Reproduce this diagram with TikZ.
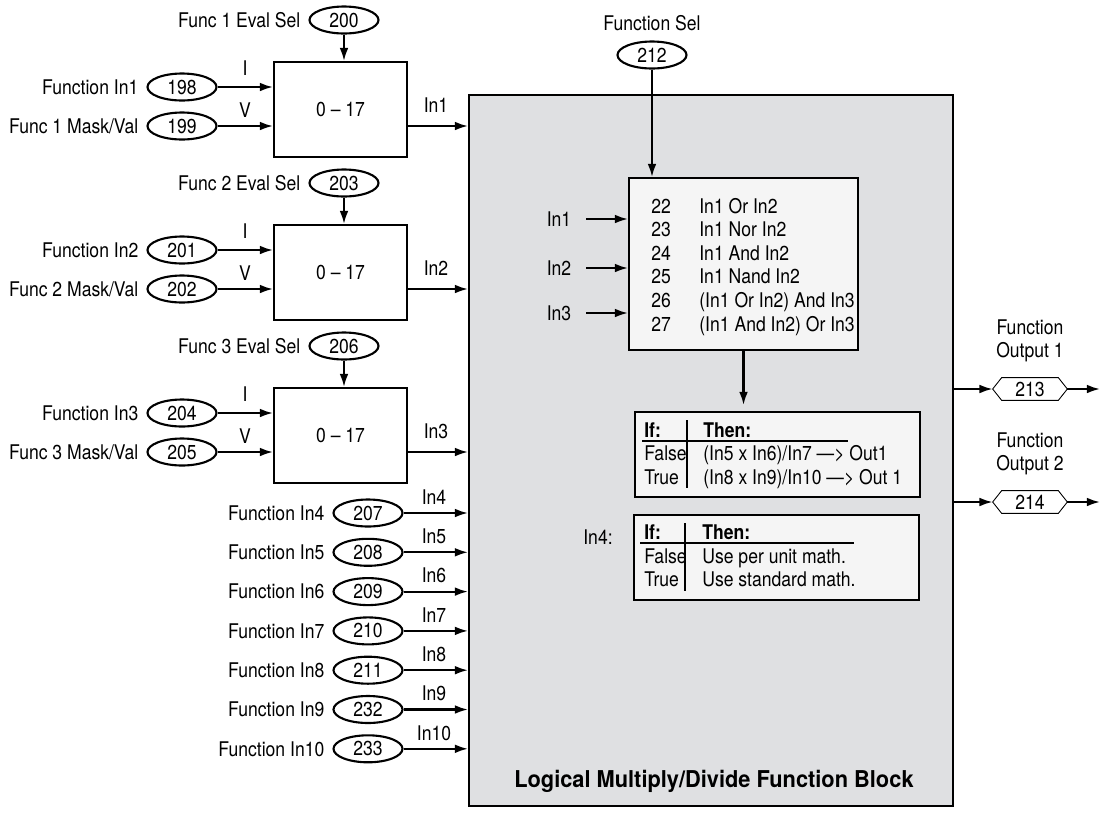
\documentclass[tikz,border=0pt]{standalone}
\usepackage{fontspec}
\setmainfont{TeX Gyre Heros}[FakeStretch=0.87]
\newfontfamily\titlefont{TeX Gyre Heros}[FakeStretch=0.94]
\usetikzlibrary{arrows.meta, positioning, shapes.geometric, calc}
\definecolor{blockgray}{RGB}{223,224,226}
\definecolor{panelwhite}{RGB}{245,245,245}
\newcommand{\txt}{\fontsize{11.5}{13}\selectfont}

\begin{document}
\begin{tikzpicture}[x=0.02cm, y=-0.02cm, >={Latex[length=7.5pt,width=5pt]},
  every node/.style={font=\txt},
  wire/.style={line width=1.2pt},
  parm/.style={draw, ellipse, line width=1.2pt, minimum width=1.38cm, minimum height=0.54cm, inner sep=0pt},
  evalbox/.style={draw, line width=1.2pt, minimum width=2.66cm, minimum height=1.9cm, inner sep=0pt},
  tag/.style={inner sep=1pt},
  cell/.style={anchor=base west, inner sep=0pt},
  ifbox/.style={draw, fill=panelwhite, line width=1.2pt, minimum width=5.7cm, minimum height=1.7cm, anchor=north west},
  outtag/.style={minimum width=1.48cm, minimum height=0.44cm, inner sep=0pt}]

  \useasboundingbox (0,0) rectangle (1100,819);

  % the function block
  \node[draw, fill=blockgray, line width=1.2pt, minimum width=9.68cm, minimum height=14.22cm, anchor=north west] (mfb) at (468,94) {};
  \node[font=\titlefont\fontsize{13.2}{15}\selectfont\bfseries] (title) at (714,781) {Logical Multiply/Divide Function Block};

  % three evaluators
  \foreach \k/\a/\b/\c/\dy in {1/198/199/200/0, 2/201/202/203/163, 3/204/205/206/326} {
    \node[evalbox, anchor=north west] (f\k) at (273,61+\dy) {0 -- 17};
    \node[parm] (p\c) at (344,20+\dy) {\c};
    \node[tag, left=0.12cm of p\c] {Func \k\ Eval Sel};
    \node[parm] (p\a) at (182,87+\dy) {\a};
    \node[tag, left=0.12cm of p\a] {Function In\k};
    \node[parm] (p\b) at (182,126+\dy) {\b};
    \node[tag, left=0.12cm of p\b] {Func \k\ Mask/Val};
    \node[tag] at (245,68+\dy) {I};
    \node[tag] at (245,110+\dy) {V};
    \node[tag] at (436,105+\dy) {In\k};
    \draw[wire, ->] (p\c) -- (p\c |- f\k.north);
    \draw[wire, ->] (p\a) -- (p\a -| f\k.west);
    \draw[wire, ->] (p\b) -- (p\b -| f\k.west);
    \draw[wire, ->] (p\b -| f\k.east) -- (p\b -| mfb.west);
  }

  % direct inputs
  \foreach \k/\n [count=\i from 0] in {4/207, 5/208, 6/209, 7/210, 8/211, 9/232, 10/233} {
    \node[parm] (p\n) at (368,{513+39.3*\i}) {\n};
    \node[tag, left=0.12cm of p\n] {Function In\k};
    \node[tag] at (434,{497+39.3*\i}) {In\k};
    \draw[wire, ->] (p\n) -- (p\n -| mfb.west);
  }

  % function select
  \node[parm] (p212) at (652,55) {212};
  \node[tag, above=0.14cm of p212] {Function Sel};
  \node[draw, fill=panelwhite, line width=1.2pt, minimum width=4.58cm, minimum height=3.44cm, anchor=north west] (sel) at (628,177) {};
  \draw[wire, ->] (p212) -- (p212 |- sel.north);
  \foreach \k/\y in {1/219, 2/268, 3/313} {
    \node[tag] (li\k) at (559,\y) {In\k};
    \draw[wire, ->] ([xshift=0.26cm]li\k.east) -- (li\k -| sel.west);
  }
  \foreach \n/\t [count=\i from 0] in {22/In1 Or In2, 23/In1 Nor In2, 24/In1 And In2, 25/In1 Nand In2, 26/{(In1 Or In2) And In3}, 27/{(In1 And In2) Or In3}} {
    \node[cell] at (651,{213+23.6*\i}) {\n};
    \node[cell] at (699,{213+23.6*\i}) {\t};
  }

  % result tables
  \node[ifbox] (ifa) at (634,411) {};
  \draw[wire, ->, shorten >=0.12cm] (sel.south) -- (sel.south |- ifa.north);
  \node[cell, font=\txt\bfseries] at (644,437) {If:};
  \node[cell, font=\txt\bfseries] at (703,437) {Then:};
  \node[cell] at (644,460) {False};
  \node[cell] at (703,460) {(In5 x In6)/In7 \textemdash> Out1};
  \node[cell] at (644,484) {True};
  \node[cell] at (703,484) {(In8 x In9)/In10 \textemdash> Out 1};
  \draw[line width=0.6pt] (687,420) -- (687,488);
  \draw[line width=0.6pt] (642,441) -- (848,441);

  \node[ifbox] (ifb) at (633,514) {};
  \node[tag] at (598,537) {In4:};
  \node[cell, font=\txt\bfseries] at (644,539) {If:};
  \node[cell, font=\txt\bfseries] at (702,539) {Then:};
  \node[cell] at (644,563) {False};
  \node[cell] at (702,563) {Use per unit math.};
  \node[cell] at (644,586) {True};
  \node[cell] at (702,586) {Use standard math.};
  \draw[line width=0.6pt] (685,523) -- (685,591);
  \draw[line width=0.6pt] (640,543) -- (854,543);

  % outputs
  \foreach \n/\k/\y in {213/1/389, 214/2/502} {
    \node[outtag] (o\n) at (1030,\y) {\n};
    \draw[line width=0.5pt] (o\n.west) -- ($(o\n.north west)+(9,0)$) -- ($(o\n.north east)+(-9,0)$)
      -- (o\n.east) -- ($(o\n.south east)+(-9,0)$) -- ($(o\n.south west)+(9,0)$) -- cycle;
    \node[tag, align=center] at (1030,{\y-48}) {Function\\Output \k};
    \coordinate (e\n) at (1100,\y);
    \draw[wire, ->] (o\n -| mfb.east) -- (o\n.west);
    \draw[wire, ->] (o\n.east) -- (e\n);
  }
\end{tikzpicture}
\end{document}
